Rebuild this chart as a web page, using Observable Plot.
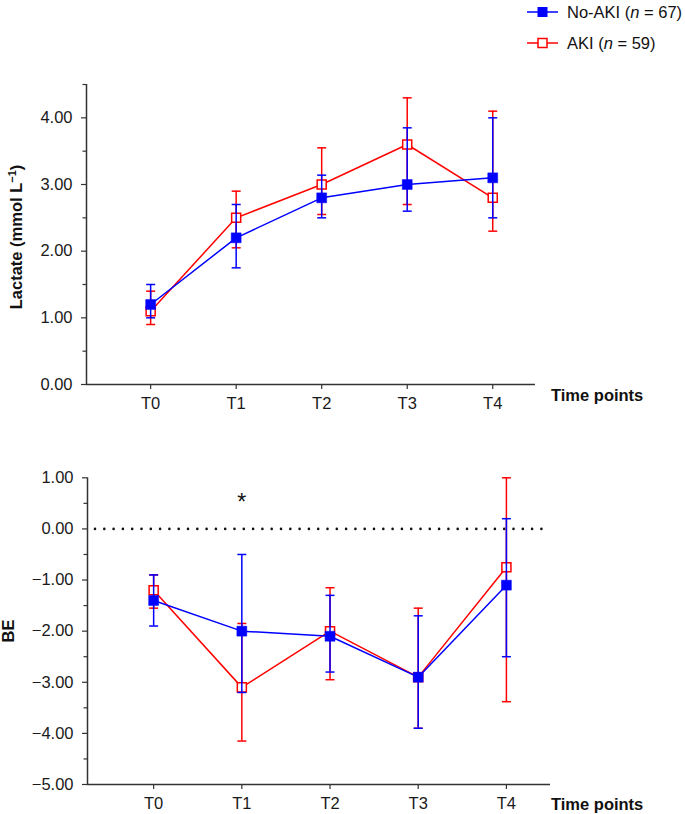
<!DOCTYPE html>
<html>
<head>
<meta charset="utf-8">
<script src="https://cdn.jsdelivr.net/npm/d3@7"></script>
<script src="https://cdn.jsdelivr.net/npm/@observablehq/plot@0.6"></script>
<style>
  html, body { margin: 0; padding: 0; background: #fff; }
  #wrap { position: relative; width: 685px; height: 814px; font-family: "Liberation Sans", Arial, Helvetica, sans-serif; color: #111; overflow: hidden; }
  #wrap svg { position: absolute; left: 0; }
  .lbl { position: absolute; font-size: 16.5px; font-weight: bold; white-space: nowrap; line-height: 1; }
  .ylab { transform: translate(-50%, -50%) rotate(-90deg); }
  .leg { position: absolute; left: 526px; font-size: 16.5px; line-height: 1; white-space: nowrap; display: flex; align-items: center; }
  .leg svg { position: static !important; margin-right: 8px; }
</style>
</head>
<body>
<div id="wrap">
  <div class="leg" style="top:3px;"><svg width="33" height="18"><line x1="1" x2="32" y1="9" y2="9" stroke="#0000ff" stroke-width="1.5"/><rect x="11.5" y="4" width="10" height="10" fill="#0000ff"/></svg><span>No-AKI (<i>n</i> = 67)</span></div>
  <div class="leg" style="top:34px;"><svg width="33" height="18"><line x1="1" x2="32" y1="9" y2="9" stroke="#ff0000" stroke-width="1.5"/><rect x="12" y="4.5" width="9" height="9" fill="#fff" stroke="#ff0000" stroke-width="1.5"/></svg><span>AKI (<i>n</i> = 59)</span></div>
  <div class="lbl ylab" style="left:15.5px; top:237px;">Lactate (mmol L<span style="font-size:11px; position:relative; top:-6px;">−1</span>)</div>
  <div class="lbl ylab" style="left:8px; top:631px;">BE</div>
  <div class="lbl" style="left:551px; top:387px;">Time points</div>
  <div class="lbl" style="left:551px; top:796px;">Time points</div>
</div>
<script>
// ---- Data ----
const timePoints = ["T0", "T1", "T2", "T3", "T4"];
const groups = ["No-AKI (n = 67)", "AKI (n = 59)"];

const lactateNoAKI     = [1.20, 2.20, 2.80, 3.00, 3.10];
const lactateNoAKILow  = [1.00, 1.75, 2.50, 2.60, 2.50];
const lactateNoAKIHigh = [1.50, 2.70, 3.14, 3.85, 4.00];
const lactateAKI       = [1.10, 2.50, 3.00, 3.60, 2.80];
const lactateAKILow    = [0.90, 2.05, 2.55, 2.70, 2.30];
const lactateAKIHigh   = [1.40, 2.90, 3.55, 4.30, 4.10];

const beNoAKI     = [-1.40, -2.00, -2.10, -2.90, -1.10];
const beNoAKILow  = [-1.90, -3.20, -2.80, -3.90, -2.50];
const beNoAKIHigh = [-0.90, -0.50, -1.30, -1.70, 0.20];
const beAKI       = [-1.20, -3.10, -2.00, -2.90, -0.75];
const beAKILow    = [-1.55, -4.15, -2.95, -3.90, -3.38];
const beAKIHigh   = [-0.90, -1.85, -1.15, -1.55, 1.00];

const lactateTicks = [0, 1, 2, 3, 4];
const lactateMinor = [0.5, 1.5, 2.5, 3.5, 4.5];
const beTicks = [1, 0, -1, -2, -3, -4, -5];
const beMinor = [0.5, -0.5, -1.5, -2.5, -3.5, -4.5];
const significance = [{i: 1, y: 0.52, label: "*"}];

// ---- Helpers ----
const BLUE = "#0000ff", RED = "#ff0000";
const rowsOf = (v, lo, hi) => timePoints.map((t, i) => ({i, t, v: v[i], lo: lo[i], hi: hi[i]}));
const cap = {draw(ctx, size) { const w = Math.sqrt(size / Math.PI); ctx.moveTo(-w, 0); ctx.lineTo(w, 0); }};

function seriesMarks(rows, color, filled) {
  return [
    Plot.line(rows, {x: "i", y: "v", stroke: color, strokeWidth: 1.5}),
    Plot.ruleX(rows, {x: "i", y1: "lo", y2: "hi", stroke: color, strokeWidth: 1.5}),
    Plot.dot(rows, {x: "i", y: "lo", symbol: cap, r: 4.5, stroke: color, strokeWidth: 1.5}),
    Plot.dot(rows, {x: "i", y: "hi", symbol: cap, r: 4.5, stroke: color, strokeWidth: 1.5}),
    filled
      ? Plot.dot(rows, {x: "i", y: "v", symbol: "square", r: 5.6, fill: color, stroke: color, strokeWidth: 0.5})
      : Plot.dot(rows, {x: "i", y: "v", symbol: "square", r: 5.1, fill: "#fff", stroke: color, strokeWidth: 1.5})
  ];
}

function panel({noAki, aki, yDomain, yTicks, yMinor, height, top, marginTop, marginLeft, marginRight, marginBottom, extra = []}) {
  const svg = Plot.plot({
    width: 685,
    height,
    marginTop, marginLeft, marginRight, marginBottom,
    style: {fontSize: "16.5px", fontFamily: "'Liberation Sans', Arial, Helvetica, sans-serif", color: "#1a1a1a", background: "transparent", overflow: "visible"},
    x: {domain: [-0.75, 4.5], label: null},
    y: {domain: yDomain, label: null},
    marks: [
      ...extra,
      Plot.ruleX([-0.75], {stroke: "#333", strokeWidth: 1.5}),
      Plot.ruleY([yDomain[0]], {stroke: "#333", strokeWidth: 1.5}),
      Plot.axisY({ticks: yTicks, tickFormat: d3.format(".2f"), tickSize: 5, tickPadding: 9, stroke: "#333", strokeWidth: 1.2}),
      Plot.axisY({ticks: yMinor, tickFormat: () => "", tickSize: 3.5, tickPadding: 0, stroke: "#333", strokeWidth: 1.2}),
      Plot.axisX({ticks: [0, 1, 2, 3, 4], tickFormat: i => timePoints[i], tickSize: 5, tickPadding: 8, stroke: "#333", strokeWidth: 1.2}),
      ...seriesMarks(aki, RED, false),
      ...seriesMarks(noAki, BLUE, true)
    ]
  });
  svg.style.top = top + "px";
  document.getElementById("wrap").appendChild(svg);
}

panel({
  noAki: rowsOf(lactateNoAKI, lactateNoAKILow, lactateNoAKIHigh),
  aki: rowsOf(lactateAKI, lactateAKILow, lactateAKIHigh),
  yDomain: [0, 4.5], yTicks: lactateTicks, yMinor: lactateMinor,
  height: 414, top: 0, marginTop: 84, marginBottom: 30, marginLeft: 86, marginRight: 150
});

panel({
  noAki: rowsOf(beNoAKI, beNoAKILow, beNoAKIHigh),
  aki: rowsOf(beAKI, beAKILow, beAKIHigh),
  yDomain: [-5, 1], yTicks: beTicks, yMinor: beMinor,
  height: 374, top: 440, marginTop: 37.3, marginBottom: 30, marginLeft: 87, marginRight: 135,
  extra: [
    Plot.ruleY([0], {stroke: "#111", strokeWidth: 2.6, strokeLinecap: "round", strokeDasharray: "0 9.3", strokeDashoffset: -8}),
    Plot.text(significance, {x: "i", y: "y", text: "label", fontSize: 23, fill: "#111"})
  ]
});
</script>
</body>
</html>
